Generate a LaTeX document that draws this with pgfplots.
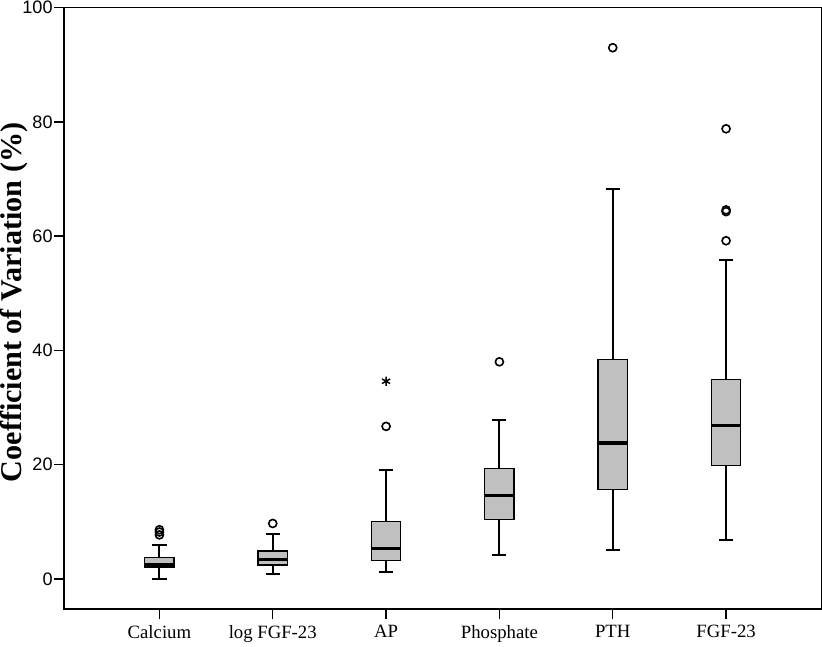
\documentclass[border=0pt]{standalone}
\usepackage{pgfplots}
\pgfplotsset{compat=1.18}
\usepgfplotslibrary{statistics}
\usepackage{fontspec}
\setmainfont{Liberation Serif}
\setsansfont{Liberation Sans}
\definecolor{boxgray}{RGB}{192,192,192}
\begin{document}
\begin{tikzpicture}
\begin{axis}[
  scale only axis, width=565.5pt, height=449.25pt,
  xmin=-0.84, xmax=5.84, ymin=-5.3, ymax=100,
  xtick={0,1,2,3,4,5},
  xticklabels={Calcium, log FGF-23, AP, Phosphate, PTH, FGF-23},
  ytick={0,20,40,60,80,100},
  tick align=outside, major tick length=7.5pt,
  xtick pos=bottom, ytick pos=left,
  axis line style={line width=1.1pt},
  every tick/.style={black, line width=1.1pt},
  /pgf/number format/assume math mode=true,
  yticklabel style={font=\sffamily\fontsize{13.5}{15}\selectfont, inner sep=1pt},
  xticklabel style={font=\fontsize{14}{16}\selectfont, yshift=-1pt},
  ylabel={Coefficient of Variation (\%)},
  ylabel style={font=\fontsize{22.5}{24}\selectfont\bfseries, at={(axis description cs:-0.048,0.51)}, anchor=south, inner sep=0pt},
  boxplot/draw direction=y,
  boxplot/box extend=0.26,
  boxplot/whisker extend=0.125,
  boxplot/every median/.style={line width=2.4pt},
  boxplot/every whisker/.style={line width=1.6pt},
  boxplot/every box/.style={line width=1pt},
]
\addplot[draw=black, fill=boxgray, boxplot prepared={lower whisker=0.0, lower quartile=2.1, median=2.5, upper quartile=3.7, upper whisker=5.9, draw position=0}] coordinates {};
\addplot[draw=black, fill=boxgray, boxplot prepared={lower whisker=0.9, lower quartile=2.4, median=3.4, upper quartile=4.9, upper whisker=7.9, draw position=1}] coordinates {};
\addplot[draw=black, fill=boxgray, boxplot prepared={lower whisker=1.2, lower quartile=3.2, median=5.3, upper quartile=10.1, upper whisker=19.1, draw position=2}] coordinates {};
\addplot[draw=black, fill=boxgray, boxplot prepared={lower whisker=4.2, lower quartile=10.4, median=14.6, upper quartile=19.3, upper whisker=27.8, draw position=3}] coordinates {};
\addplot[draw=black, fill=boxgray, boxplot prepared={lower whisker=5.0, lower quartile=15.6, median=23.8, upper quartile=38.4, upper whisker=68.2, draw position=4}] coordinates {};
\addplot[draw=black, fill=boxgray, boxplot prepared={lower whisker=6.8, lower quartile=19.9, median=26.9, upper quartile=34.9, upper whisker=55.9, draw position=5}] coordinates {};
% outliers
\addplot[only marks, mark=o, mark size=3pt, mark options={line width=1.2pt, black}] coordinates {
  (0,7.7) (0,8.2) (0,8.6)
  (1,9.7)
  (2,26.7)
  (3,38.0)
  (4,93.0)
  (5,59.2) (5,64.3) (5,64.6) (5,78.8)
};
\addplot[only marks, mark=asterisk, mark size=3.5pt, mark options={line width=1.1pt, black}] coordinates {(2,34.6)};
\end{axis}
\end{tikzpicture}
\end{document}
